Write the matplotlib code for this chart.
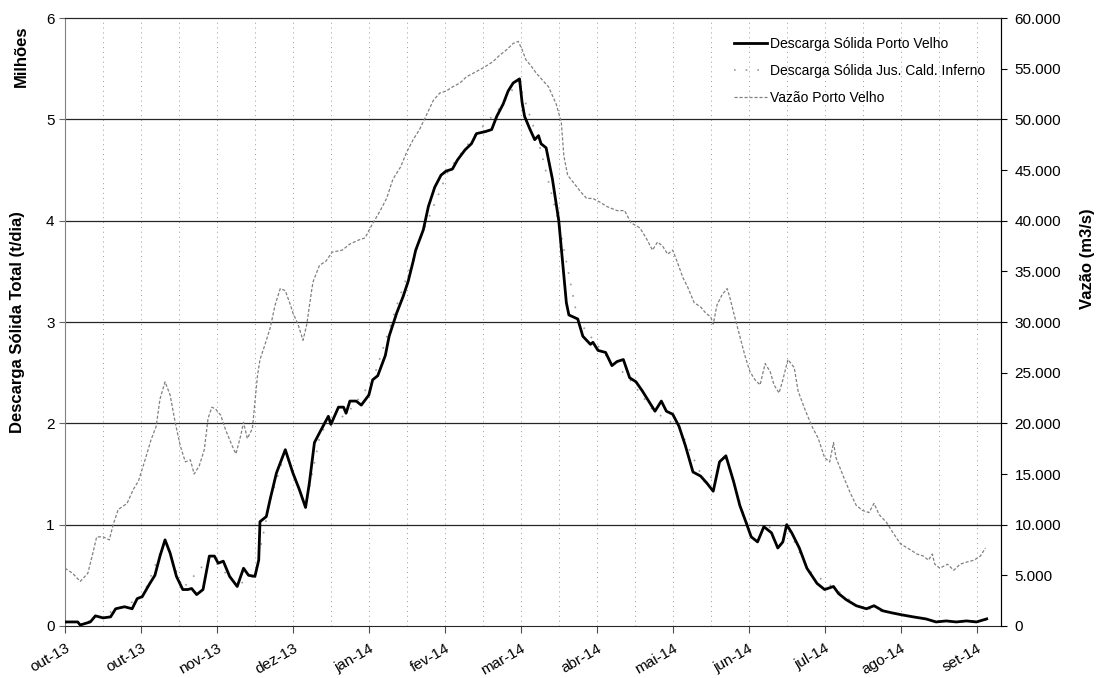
import datetime as dt
import numpy as np
import matplotlib
matplotlib.use("Agg")
import matplotlib.pyplot as plt
from matplotlib.ticker import FuncFormatter, MultipleLocator

plt.rcParams['font.family'] = ['Liberation Sans', 'DejaVu Sans']

inicio = dt.datetime(2013, 10, 1)

# Descarga sólida Porto Velho (milhões t/dia) - dias contados a partir de 01/10/2013
dias_pv = [0, 5, 6, 10, 12, 15, 18, 20, 23.5, 26.5, 28.5, 30.5, 33.5, 35.5, 37.5, 39.5, 41.5,
           44, 46.5, 48.5, 50, 52, 54.5, 57, 59, 60.5, 62.5, 65, 68, 70.5, 72.5, 75, 76.5, 77,
           79.5, 81, 83.5, 87, 90, 92.5, 95, 96.5, 98.5, 101, 104, 105, 108, 110, 111, 112.5,
           115, 117, 120, 121.5, 123.5, 126.5, 128, 131, 133.5, 135.5, 137.5, 138.5, 141.5,
           143.5, 146, 148.5, 150.5, 153, 155, 158, 160.5, 162.5, 166, 168.5, 170.5, 173, 175,
           177, 179.5, 180.5, 181.5, 183.5, 185.5, 187, 188, 190, 192.5, 195, 198, 199, 202.5,
           204.5, 207.5, 208.5, 210.5, 213.5, 216, 218, 220.5, 223, 225.5, 228, 231, 233,
           235.5, 237.5, 240, 242.5, 245, 248, 251, 253.5, 256, 258.5, 261, 264, 266.5, 269,
           271, 273.5, 276, 279, 281.5, 283.5, 285, 287, 290, 293, 297, 300, 303.5, 305.5,
           308.5, 312.5, 316.5, 319.5, 323, 326.5, 330.5, 335, 340, 344, 348, 352, 356, 360,
           364]
descarga_pv = [0.04, 0.04, 0.01, 0.04, 0.10, 0.08, 0.09, 0.17, 0.19, 0.17, 0.27, 0.29, 0.42,
               0.50, 0.69, 0.85, 0.72, 0.49, 0.36, 0.36, 0.37, 0.31, 0.36, 0.69, 0.69, 0.62,
               0.64, 0.49, 0.39, 0.57, 0.50, 0.49, 0.65, 1.03, 1.08, 1.25, 1.51, 1.74, 1.51,
               1.35, 1.17, 1.41, 1.81, 1.93, 2.07, 1.99, 2.16, 2.16, 2.10, 2.22, 2.22, 2.18,
               2.28, 2.43, 2.47, 2.67, 2.86, 3.09, 3.25, 3.40, 3.60, 3.71, 3.91, 4.14, 4.33,
               4.45, 4.49, 4.51, 4.60, 4.70, 4.76, 4.86, 4.88, 4.90, 5.03, 5.15, 5.28, 5.36,
               5.40, 5.17, 5.03, 4.91, 4.80, 4.84, 4.76, 4.72, 4.41, 4.00, 3.19, 3.07, 3.03,
               2.86, 2.78, 2.80, 2.72, 2.70, 2.57, 2.61, 2.63, 2.45, 2.41, 2.32, 2.20, 2.12,
               2.22, 2.12, 2.09, 1.97, 1.78, 1.52, 1.48, 1.41, 1.33, 1.62, 1.68, 1.43, 1.19,
               1.02, 0.88, 0.83, 0.98, 0.92, 0.77, 0.83, 1.00, 0.92, 0.77, 0.57, 0.42, 0.36,
               0.39, 0.32, 0.26, 0.20, 0.17, 0.20, 0.15, 0.13, 0.11, 0.09, 0.07, 0.04, 0.05,
               0.04, 0.05, 0.04, 0.07]

# Descarga sólida a jusante de Caldeirão do Inferno (milhões t/dia)
dias_jci = [0, 10, 20, 30.5, 39.5, 46.5, 57.5, 68, 75, 81, 87, 95, 101, 111.5, 121.5, 131.5,
            141.5, 151.5, 162, 172, 179, 187, 195, 202.5, 212.5, 222.5, 232.5, 242.5, 253, 261,
            269, 276, 285, 293.5, 303.5, 313.5, 323.5, 334, 344, 354, 364]
descarga_jci = [0.03, 0.05, 0.16, 0.28, 0.84, 0.37, 0.68, 0.40, 0.50, 1.24, 1.72, 1.18, 1.92,
                2.10, 2.42, 3.20, 3.90, 4.50, 4.85, 5.12, 5.38, 4.78, 3.98, 3.02, 2.70, 2.45,
                2.12, 1.96, 1.40, 1.66, 1.02, 0.97, 0.99, 0.55, 0.38, 0.19, 0.14, 0.10, 0.05,
                0.04, 0.06]

# Vazão Porto Velho (m3/s)
dias_vz = [0, 3, 6, 9, 11, 12.5, 15, 17.5, 19, 21, 24.5, 27, 29, 31.5, 34, 36, 37.5, 39.5,
           41.5, 43.5, 45.5, 47.5, 49.5, 51, 53, 55, 56.5, 58, 59.5, 61.5, 63.5, 66, 67.5,
           69.5, 70.5, 72, 74, 76, 77, 79, 81, 83, 85, 87, 89, 90, 92, 94, 95.5, 97.5, 98,
           100.5, 103, 105.5, 109.5, 112.5, 116, 118.5, 121, 124.5, 127, 129.5, 132.5, 135,
           137.5, 140, 142.5, 145.5, 148, 150.5, 153, 156, 158.5, 161.5, 164.5, 166.5, 169,
           171.5, 174.5, 177, 179, 180.5, 182, 184, 186, 191, 194, 196, 197, 198.5, 201,
           203.5, 206, 208.5, 211.5, 214, 218, 221, 223.5, 227, 229.5, 232, 234, 236, 238,
           240, 242, 244, 246, 248.5, 251, 253, 255, 256, 257.5, 259.5, 261.5, 262.5, 264.5,
           266.5, 268.5, 270.5, 272.5, 274.5, 276.5, 278.5, 280, 282, 283.5, 285.5, 288,
           289.5, 292.5, 295, 297.5, 300, 302, 303.5, 304.5, 307.5, 310, 312.5, 315, 317.5,
           319.5, 321.5, 324.5, 327, 330, 334, 336.5, 339, 341, 342.5, 343.5, 345.5, 348.5,
           351, 353.5, 356, 359, 361.5, 363.5]
vazao_pv = [5700, 5200, 4400, 5200, 7200, 8800, 8800, 8500, 10000, 11500, 12100, 13500, 14300,
            16300, 18400, 19700, 22400, 24100, 22800, 20100, 17800, 16200, 16400, 15000, 15800,
            17400, 20500, 21600, 21400, 20800, 19300, 17800, 17000, 18900, 20100, 18500, 19500,
            24700, 26300, 27800, 29400, 31700, 33300, 33100, 31700, 30900, 29800, 28200, 29800,
            33300, 34000, 35600, 36000, 36900, 37100, 37700, 38100, 38300, 39500, 41000, 42200,
            44100, 45300, 46800, 48000, 49000, 50300, 51900, 52600, 52800, 53200, 53600, 54200,
            54600, 55000, 55300, 55700, 56300, 56900, 57500, 57700, 56900, 55900, 55300, 54600,
            53200, 51500, 49700, 46400, 44500, 43700, 42900, 42200, 42200, 41800, 41400, 41000,
            41000, 39800, 39300, 38300, 37100, 37900, 37500, 36700, 37100, 35800, 34400, 33400,
            31900, 31500, 30900, 30500, 29800, 31700, 32700, 33300, 32500, 30500, 28600, 26700,
            25100, 24300, 23800, 25900, 25100, 23800, 23000, 24300, 26300, 25500, 23200, 21200,
            19700, 18500, 16600, 16200, 18100, 16600, 14700, 13200, 11900, 11400, 11200, 12100,
            11000, 10200, 9200, 8100, 7500, 7100, 6900, 6500, 7100, 6100, 5700, 6100, 5500,
            6100, 6300, 6500, 6900, 7700]

# eixo x: marcas a cada 30 dias
rotulos_x = ['out-13', 'out-13', 'nov-13', 'dez-13', 'jan-14', 'fev-14', 'mar-14',
             'abr-14', 'mai-14', 'jun-14', 'jul-14', 'ago-14', 'set-14']


def para_datas(dias):
    return [inicio + dt.timedelta(days=d) for d in dias]


fig = plt.figure(figsize=(11.02, 6.78), dpi=100)
ax = fig.add_axes([0.059, 0.0767, 0.849, 0.8966])
ax2 = ax.twinx()

# grade
for v in range(1, 6):
    ax.axhline(v, color='0.15', lw=0.9, zorder=1)
for k in range(1, 25):
    ax.axvline(inicio + dt.timedelta(days=15 * k), color='0.6', lw=0.7,
               linestyle=(0, (1, 4)), zorder=1)

l2, = ax.plot(para_datas(dias_jci), descarga_jci, color='0.6', lw=1.2,
              linestyle=(0, (1, 6)), zorder=2, label='Descarga Sólida Jus. Cald. Inferno')
l1, = ax.plot(para_datas(dias_pv), descarga_pv, color='black', lw=2.0, zorder=3,
              label='Descarga Sólida Porto Velho')
l3, = ax2.plot(para_datas(dias_vz), vazao_pv, color='0.5', lw=0.9,
               linestyle=(0, (2.5, 1.5)), label='Vazão Porto Velho')

ax.set_xlim(inicio, inicio + dt.timedelta(days=369.5))
ax.set_ylim(0, 6)
ax2.set_ylim(0, 60000)

ticks_x = [inicio + dt.timedelta(days=30 * k) for k in range(len(rotulos_x))]
ax.set_xticks(ticks_x)
ax.set_xticklabels(rotulos_x, rotation=30, ha='right', rotation_mode='anchor', fontsize=11)
ax.tick_params(axis='x', direction='out', length=5, pad=6, color='0.3')

ax.yaxis.set_major_locator(MultipleLocator(1))
ax.tick_params(axis='y', direction='out', length=4, labelsize=11, color='0.4')
ax2.yaxis.set_major_locator(MultipleLocator(5000))
ax2.yaxis.set_major_formatter(FuncFormatter(lambda v, p: f'{v:,.0f}'.replace(',', '.')))
ax2.tick_params(axis='y', direction='out', length=4, labelsize=11, pad=6)

for s in ax.spines.values():
    s.set_color('0.15')
ax.spines['left'].set_color('0.5')
ax2.spines['left'].set_visible(False)
ax2.spines['bottom'].set_visible(False)
ax2.spines['top'].set_color('0.15')

ax.set_ylabel('Descarga Sólida Total (t/dia)', fontsize=12, fontweight='bold')
ax.yaxis.set_label_coords(-0.043, 0.5)
fig.text(0.019, 0.917, 'Milhões', rotation=90, fontsize=12, fontweight='bold',
         ha='center', va='center')
ax2.set_ylabel('Vazão (m3/s)', fontsize=12, fontweight='bold')
ax2.yaxis.set_label_coords(1.085, 0.605)

leg = ax2.legend(handles=[l1, l2, l3], loc='upper right', bbox_to_anchor=(0.997, 0.99),
                 frameon=False, fontsize=10, handlelength=2.4, handletextpad=0.2,
                 labelspacing=0.95)

fig.savefig('out.png', dpi=100)
